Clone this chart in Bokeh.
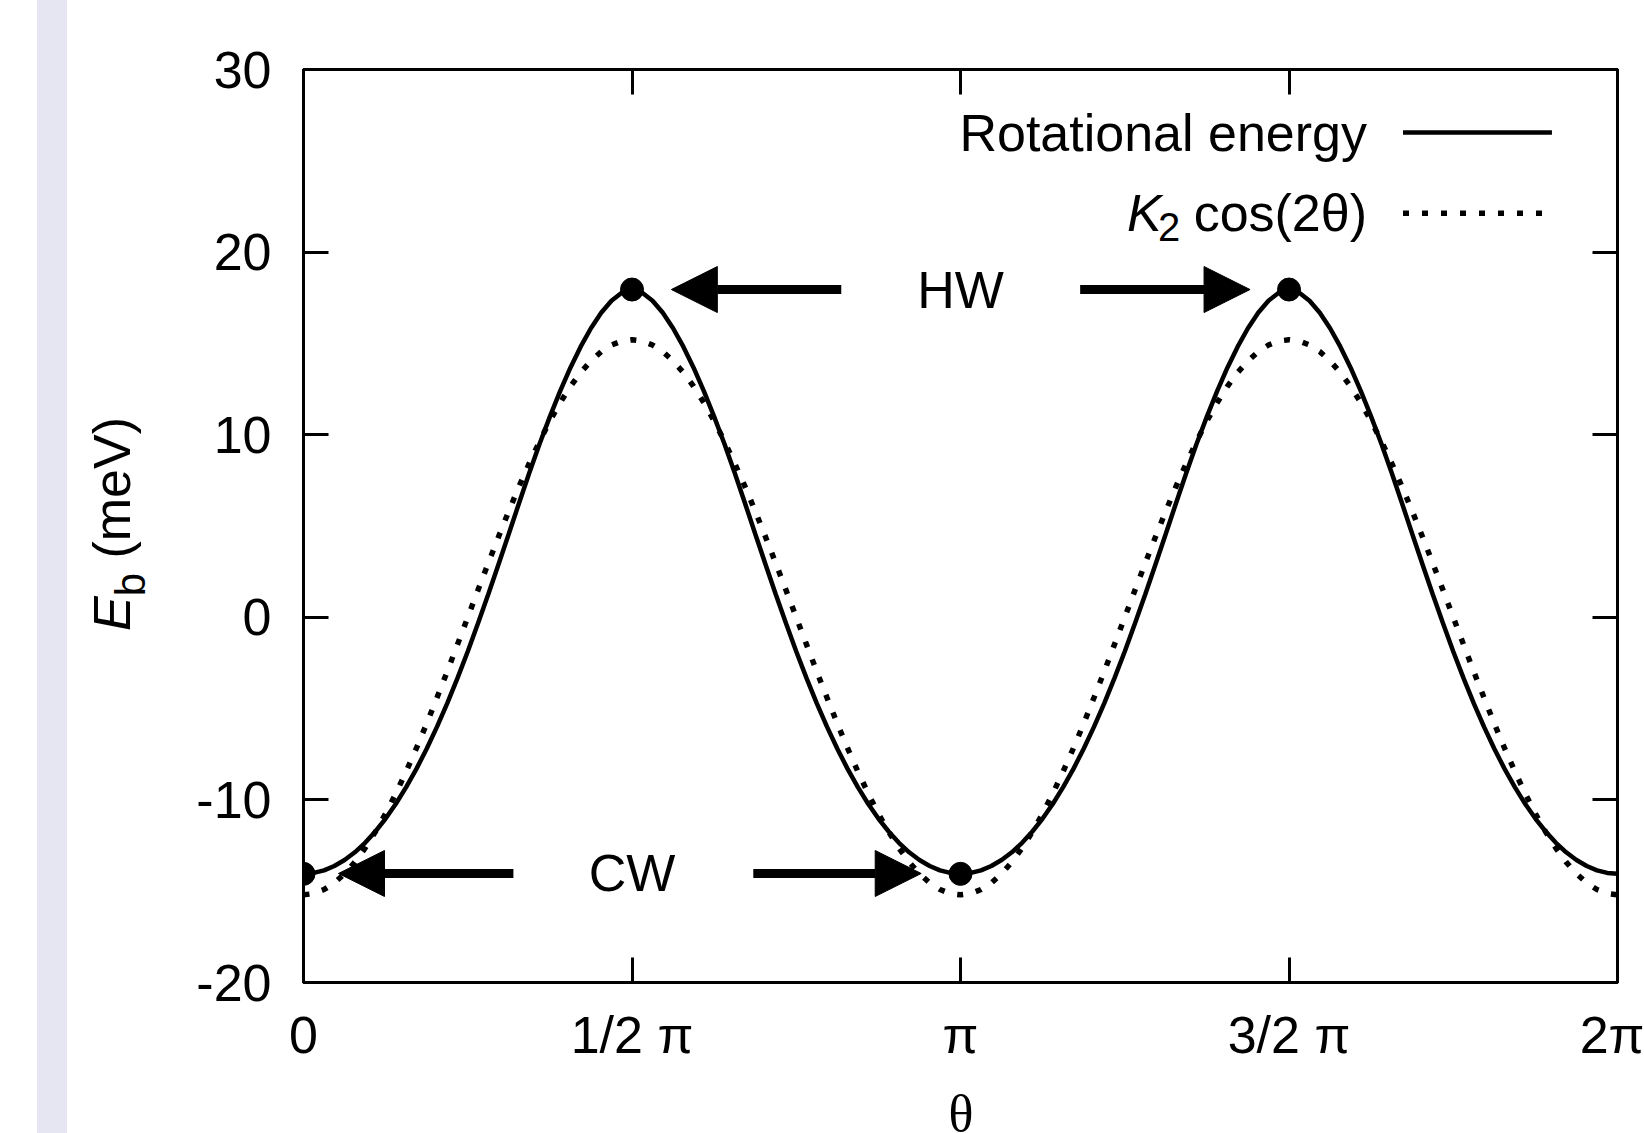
import numpy as np
from bokeh.plotting import figure
from bokeh.models import (FixedTicker, LinearAxis, Label, Arrow, NormalHead,
                          Range1d, ColumnDataSource, Div)
from bokeh.layouts import row, column
from bokeh.embed import file_html
from bokeh.resources import INLINE

PI = np.pi

# ---------------- data ----------------
theta = [i * PI / 64 for i in range(129)]

rot_energy = [
    -14.05, -14.00, -13.86, -13.62, -13.29, -12.87, -12.35, -11.73, -11.02, -10.21, -9.30, -8.30, -7.20, -6.00, -4.71, -3.33,
    -1.87, -0.33, 1.26, 2.91, 4.58, 6.26, 7.92, 9.50, 10.99, 12.39, 13.67, 14.82, 15.83, 16.68, 17.34, 17.77, 17.95,
    17.77, 17.34, 16.68, 15.83, 14.82, 13.67, 12.39, 10.99, 9.50, 7.92, 6.26, 4.58, 2.91, 1.26, -0.33, -1.87,
    -3.33, -4.71, -6.00, -7.20, -8.30, -9.30, -10.21, -11.02, -11.73, -12.35, -12.87, -13.29, -13.62, -13.86, -14.00, -14.05,
    -14.00, -13.86, -13.62, -13.29, -12.87, -12.35, -11.73, -11.02, -10.21, -9.30, -8.30, -7.20, -6.00, -4.71, -3.33, -1.87,
    -0.33, 1.26, 2.91, 4.58, 6.26, 7.92, 9.50, 10.99, 12.39, 13.67, 14.82, 15.83, 16.68, 17.34, 17.77, 17.95,
    17.77, 17.34, 16.68, 15.83, 14.82, 13.67, 12.39, 10.99, 9.50, 7.92, 6.26, 4.58, 2.91, 1.26, -0.33, -1.87,
    -3.33, -4.71, -6.00, -7.20, -8.30, -9.30, -10.21, -11.02, -11.73, -12.35, -12.87, -13.29, -13.62, -13.86, -14.00, -14.05,
]

k2_cos = [
    -15.20, -15.13, -14.91, -14.55, -14.04, -13.41, -12.64, -11.75, -10.75, -9.64, -8.44, -7.17, -5.82, -4.41, -2.97, -1.49,
    0.00, 1.49, 2.97, 4.41, 5.82, 7.17, 8.44, 9.64, 10.75, 11.75, 12.64, 13.41, 14.04, 14.55, 14.91, 15.13, 15.20,
    15.13, 14.91, 14.55, 14.04, 13.41, 12.64, 11.75, 10.75, 9.64, 8.44, 7.17, 5.82, 4.41, 2.97, 1.49, 0.00,
    -1.49, -2.97, -4.41, -5.82, -7.17, -8.44, -9.64, -10.75, -11.75, -12.64, -13.41, -14.04, -14.55, -14.91, -15.13, -15.20,
    -15.13, -14.91, -14.55, -14.04, -13.41, -12.64, -11.75, -10.75, -9.64, -8.44, -7.17, -5.82, -4.41, -2.97, -1.49, 0.00,
    1.49, 2.97, 4.41, 5.82, 7.17, 8.44, 9.64, 10.75, 11.75, 12.64, 13.41, 14.04, 14.55, 14.91, 15.13, 15.20,
    15.13, 14.91, 14.55, 14.04, 13.41, 12.64, 11.75, 10.75, 9.64, 8.44, 7.17, 5.82, 4.41, 2.97, 1.49, 0.00,
    -1.49, -2.97, -4.41, -5.82, -7.17, -8.44, -9.64, -10.75, -11.75, -12.64, -13.41, -14.04, -14.55, -14.91, -15.13, -15.20,
]
assert len(rot_energy) == len(theta) == len(k2_cos)

marker_theta = [0.0, PI / 2, PI, 3 * PI / 2]
marker_energy = [-14.05, 17.95, -14.05, 17.95]

x_tick_values = [0.0, PI / 2, PI, 3 * PI / 2, 2 * PI]
x_tick_labels = ["0", "1/2 \u03c0", "\u03c0", "3/2 \u03c0", "2\u03c0"]
y_tick_values = [-20, -10, 0, 10, 20, 30]
y_tick_labels = ["-20", "-10", "0", "10", "20", "30"]

FONT = "Liberation Sans"
FS = "52px"
LEFT_W = 167
FIG_H = 1082
W_TOTAL, H_TOTAL = 1644, 1133

# ---------------- left strip: gray bar + y axis label ----------------
left_html = (
    '<div style="position:relative;width:%dpx;height:%dpx;margin:0;padding:0;">'
    '<div style="position:absolute;left:37px;top:0px;width:30px;height:%dpx;'
    'background-color:#e6e6f2;"></div>'
    '<div style="position:absolute;left:112px;top:524px;transform:translate(-50%%,-50%%) rotate(-90deg);'
    'white-space:nowrap;font-family:\'Liberation Sans\';font-size:52px;line-height:1;color:#000;">'
    '<i>E</i><span style="font-size:42px;position:relative;top:15px;">b</span> (meV)</div>'
    '</div>' % (LEFT_W, H_TOTAL, H_TOTAL)
)
left = Div(text=left_html, width=LEFT_W, height=H_TOTAL, margin=0)

# ---------------- bottom strip: x axis label ----------------
bottom_html = (
    '<div style="position:relative;width:%dpx;height:%dpx;margin:0;padding:0;">'
    '<div style="position:absolute;left:%dpx;top:14px;transform:translateX(-50%%);'
    'white-space:nowrap;font-family:\'Liberation Serif\';font-size:52px;line-height:36px;color:#000;">'
    '\u03b8</div></div>' % (W_TOTAL - LEFT_W, H_TOTAL - FIG_H, 961 - LEFT_W)
)
bottom = Div(text=bottom_html, width=W_TOTAL - LEFT_W, height=H_TOTAL - FIG_H, margin=0)

# ---------------- figure ----------------
p = figure(width=W_TOTAL - LEFT_W, height=FIG_H, output_backend="svg", toolbar_location=None,
           x_range=Range1d(0, 2 * PI), y_range=Range1d(-20, 30),
           min_border_left=303 - LEFT_W, min_border_right=27, min_border_top=69,
           min_border_bottom=FIG_H - 982, margin=0)
p.background_fill_color = "white"
p.border_fill_color = "white"
p.grid.visible = False
p.outline_line_color = "black"
p.outline_line_width = 3

xt = FixedTicker(ticks=x_tick_values)
yt = FixedTicker(ticks=y_tick_values)


def style_axis(ax):
    ax.axis_line_color = "black"
    ax.axis_line_width = 3
    ax.major_tick_line_color = "black"
    ax.major_tick_line_width = 3
    ax.major_tick_in = 25
    ax.major_tick_out = 0
    ax.minor_tick_line_color = None
    ax.major_label_text_font = FONT
    ax.major_label_text_font_size = FS
    ax.major_label_text_color = "black"


p.xaxis.ticker = xt
p.yaxis.ticker = yt
p.xaxis.major_label_overrides = {v: l for v, l in zip(x_tick_values, x_tick_labels)}
p.yaxis.major_label_overrides = {v: l for v, l in zip(y_tick_values, y_tick_labels)}
style_axis(p.xaxis[0])
style_axis(p.yaxis[0])
p.xaxis.major_label_standoff = 23
p.yaxis.major_label_standoff = 32

top_ax = LinearAxis(ticker=xt)
right_ax = LinearAxis(ticker=yt)
top_ax.major_label_overrides = {v: "" for v in x_tick_values}
right_ax.major_label_overrides = {v: "" for v in y_tick_values}
for ax in (top_ax, right_ax):
    style_axis(ax)
    ax.major_label_text_font_size = "10px"
    ax.major_label_text_color = None
    ax.major_label_standoff = 0
p.add_layout(top_ax, "above")
p.add_layout(right_ax, "right")

# ---------------- data glyphs ----------------
src = ColumnDataSource(dict(theta=theta, rot=rot_energy, k2=k2_cos))
p.line("theta", "rot", source=src, line_color="black", line_width=4.5)
p.line("theta", "k2", source=src, line_color="black", line_width=5.5,
       line_dash="6 13")
p.scatter(marker_theta, marker_energy, size=23, fill_color="black", line_color="black")


# ---------------- annotations ----------------
def txt(x, y, t, size=FS, align="left", baseline="middle", style="normal"):
    p.add_layout(Label(x=x, y=y, text=t, text_font=FONT, text_font_size=size,
                       text_align=align, text_baseline=baseline, text_font_style=style,
                       text_color="black"))


def arrow(x0, x1, y):
    p.add_layout(Arrow(x_start=x0, y_start=y, x_end=x1, y_end=y, line_width=9,
                       line_color="black",
                       end=NormalHead(size=46, fill_color="black", line_color="black",
                                      line_width=1)))


arrow(2.5714, 1.7589, 17.95)
arrow(3.7137, 4.5262, 17.95)
arrow(1.0037, 0.1673, -14.03)
arrow(2.1508, 2.9537, -14.03)
txt(PI, 17.95, "HW", align="center")
txt(PI / 2, -14.03, "CW", align="center")

# legend (text on the left, sample on the right, as in the reference)
txt(5.0855, 26.5, "Rotational energy", align="right")
p.add_layout(Arrow(x_start=5.2576, y_start=26.55, x_end=5.9697, y_end=26.55,
                   line_width=4.5, line_color="black", end=None))
txt(5.0855, 22.15, "cos(2\u03b8)", align="right")
txt(3.9383, 22.15, "K", style="italic")
txt(4.0865, 21.35, "2", size="40px")
p.add_layout(Arrow(x_start=5.2576, y_start=22.125, x_end=5.9697, y_end=22.125,
                   line_width=5.5, line_color="black", line_dash="6 13", end=None))

layout = row(left, column(p, bottom, spacing=0), spacing=0)
open("out.html", "w").write(file_html(layout, INLINE))
